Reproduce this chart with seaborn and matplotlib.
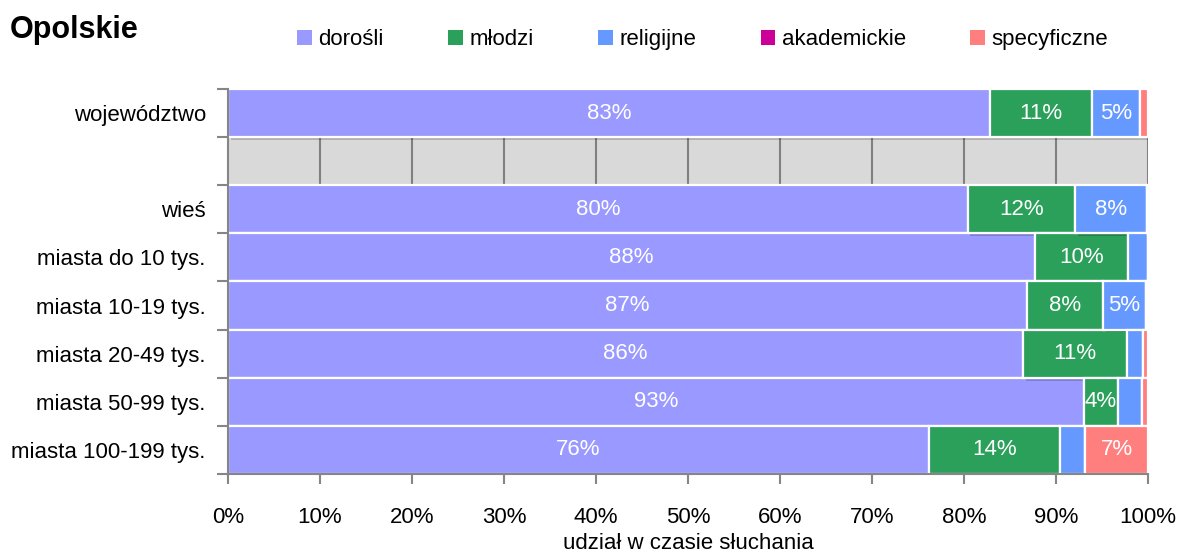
import matplotlib
matplotlib.use("Agg")
import matplotlib.pyplot as plt
import matplotlib.patheffects as pe
import numpy as np
import pandas as pd
import seaborn as sns
from matplotlib.patches import Patch
from matplotlib.ticker import FixedLocator, NullFormatter

# --- data -----------------------------------------------------------------
categories = ["województwo", "wieś", "miasta do 10 tys.", "miasta 10-19 tys.",
              "miasta 20-49 tys.", "miasta 50-99 tys.", "miasta 100-199 tys."]
series = ["dorośli", "młodzi", "religijne", "akademickie", "specyficzne"]

dorosli = [82.8, 80.4, 87.7, 86.8, 86.4, 93.0, 76.2]
mlodzi = [11.1, 11.7, 10.1, 8.3, 11.3, 3.7, 14.2]
religijne = [5.2, 7.8, 2.2, 4.7, 1.8, 2.7, 2.8]
akademickie = [0.0, 0.0, 0.0, 0.0, 0.0, 0.0, 0.0]
specyficzne = [0.9, 0.1, 0.0, 0.2, 0.5, 0.6, 6.8]

colors = ["#9999FF", "#2AA05A", "#6699FF", "#CC0099", "#FF7F7F"]
row_order = ["województwo", " "] + categories[1:]   # blank separator row
x_ticks = [0, 10, 20, 30, 40, 50, 60, 70, 80, 90, 100]
title = "Opolskie"
x_label = "udział w czasie słuchania"

values = {"dorośli": dorosli, "młodzi": mlodzi, "religijne": religijne,
          "akademickie": akademickie, "specyficzne": specyficzne}

df = pd.DataFrame(values, index=categories)
left = df.cumsum(axis=1) - df

# --- styling --------------------------------------------------------------
sns.set_theme(style="white")
plt.rcParams["font.family"] = ["Liberation Sans", "DejaVu Sans"]
plt.rcParams["text.color"] = "black"
plt.rcParams["axes.labelcolor"] = "black"
plt.rcParams["xtick.color"] = "black"
plt.rcParams["ytick.color"] = "black"

fig = plt.figure(figsize=(11.79, 5.54), dpi=100)
ax = fig.add_axes([0.1934, 0.1444, 0.7803, 0.695])

shadow = [pe.SimplePatchShadow(offset=(2, -2), shadow_rgbFace="#000000", alpha=0.18),
          pe.Normal()]

# separator band with vertical grid lines
sep = row_order.index(" ")
ax.axhspan(sep - 0.5, sep + 0.5, color="#D9D9D9", zorder=0)
ax.vlines(x_ticks[1:], sep - 0.5, sep + 0.5, color="#808080", lw=1.5, zorder=1)

for name, col in zip(series, colors):
    part = pd.DataFrame({"kategoria": categories, "udzial": df[name].values})
    sns.barplot(data=part, y="kategoria", x="udzial", order=row_order,
                left=left[name].values, color=col, saturation=1, width=1.0,
                orient="y", edgecolor="white", linewidth=1.6, ax=ax, zorder=2)

for p in ax.patches:
    p.set_path_effects(shadow)

# value labels inside segments
for cat in categories:
    y = row_order.index(cat)
    for name in series:
        v = df.loc[cat, name]
        if v >= 3:
            ax.text(left.loc[cat, name] + v / 2, y, f"{v:.0f}%", ha="center",
                    va="center", color="white", fontsize=16, zorder=5)

# axes
ax.set_xlim(0, 100)
ax.set_ylim(len(row_order) - 0.5, -0.5)
ax.set_xticks(x_ticks)
ax.set_xticklabels([f"{t}%" for t in x_ticks], fontsize=16)
ax.set_xlabel(x_label, fontsize=16, labelpad=3)
ax.set_ylabel("")
ax.set_yticks(range(len(row_order)))
ax.set_yticklabels(row_order, fontsize=16)
ax.tick_params(axis="y", which="major", length=0, pad=16)
ax.yaxis.set_minor_locator(FixedLocator(np.arange(-0.5, len(row_order), 1.0)))
ax.yaxis.set_minor_formatter(NullFormatter())
ax.tick_params(axis="y", which="minor", length=8, width=1.5, color="#868686", left=True)
ax.tick_params(axis="x", which="major", length=7, width=1.5, color="#868686",
               labelcolor="black", bottom=True, pad=17)
for s in ["top", "right"]:
    ax.spines[s].set_visible(False)
for s in ["left", "bottom"]:
    ax.spines[s].set_color("#868686")
    ax.spines[s].set_linewidth(1.5)

# title and legend
fig.text(0.008, 0.945, title, fontsize=22, fontweight="bold", va="center",
         ha="left", color="black")
handles = [Patch(facecolor=c, edgecolor="none") for c in colors]
fig.legend(handles, series, loc="center", bbox_to_anchor=(0.596, 0.928), ncol=5,
           frameon=False, fontsize=16, handlelength=0.65, handleheight=0.65,
           handletextpad=0.3, columnspacing=2.9)

fig.savefig("out.png", dpi=100)
